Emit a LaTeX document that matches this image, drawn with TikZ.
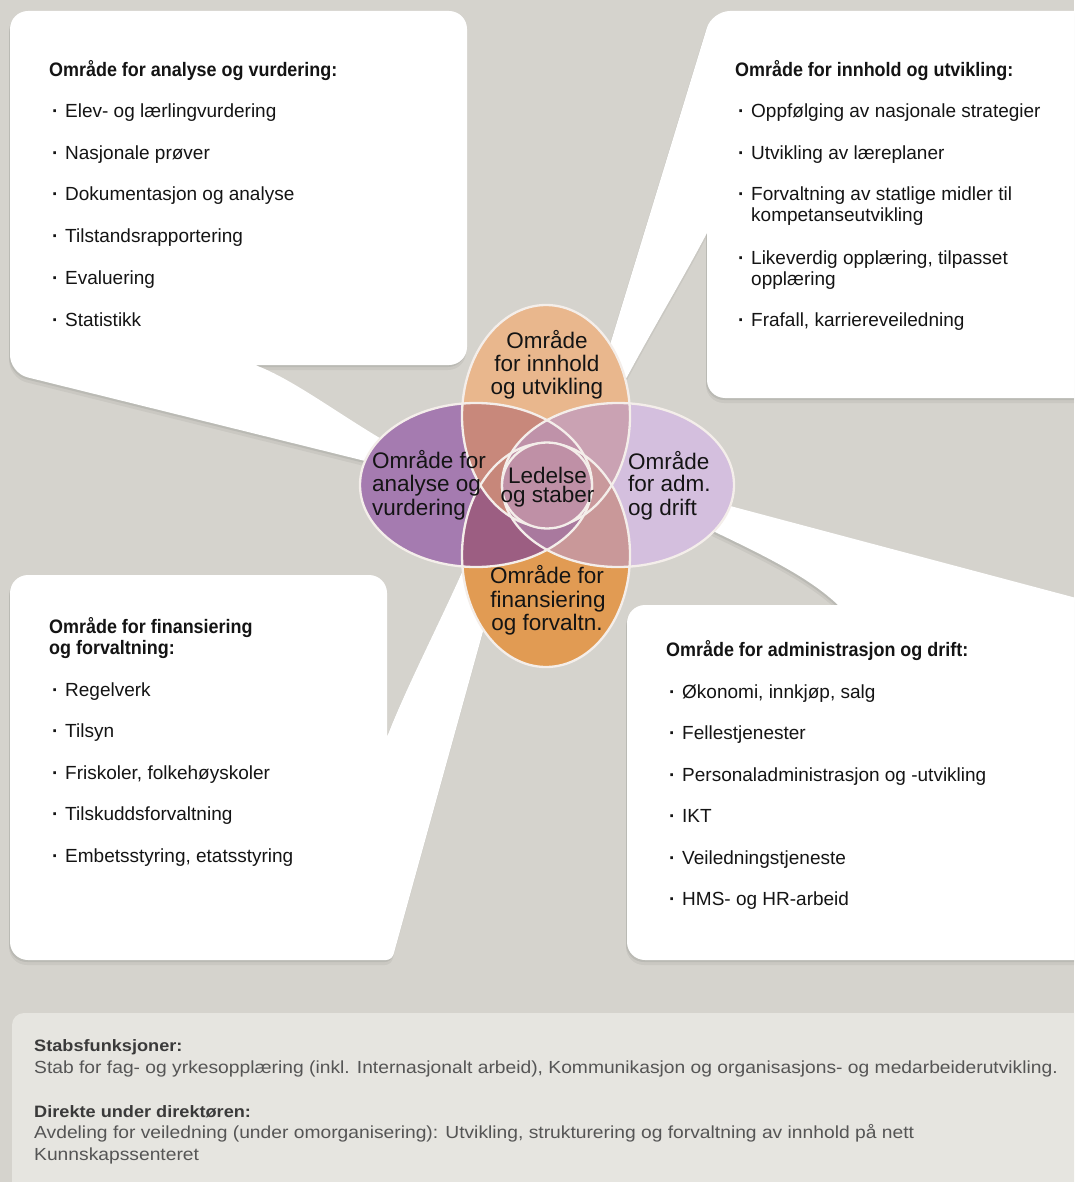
\documentclass[tikz,border=0pt]{standalone}
\usepackage{fontspec}
\setmainfont{Liberation Sans}
\newfontfamily\headfont[FakeStretch=0.92]{Liberation Sans}
\newfontfamily\condfont[FakeStretch=1.10]{Liberation Sans}
\usetikzlibrary{shadows}
\definecolor{bg}{HTML}{D5D3CD}
\definecolor{boxc}{HTML}{E6E5E0}
\definecolor{txt}{HTML}{141414}
\definecolor{btxt}{HTML}{555555}
\definecolor{bhead}{HTML}{3A3A3A}
\definecolor{cT}{HTML}{E9B78D}
\definecolor{cB}{HTML}{E19B53}
\definecolor{cL}{HTML}{A57BB0}
\definecolor{cR}{HTML}{D4BFDE}
\definecolor{cTL}{HTML}{C8887B}
\definecolor{cTR}{HTML}{CAA2B3}
\definecolor{cBL}{HTML}{9C5E82}
\definecolor{cBR}{HTML}{C99899}
\definecolor{cTB}{HTML}{D9A079}
\definecolor{cLR}{HTML}{BB97C0}
\definecolor{cTLR}{HTML}{BF92A9}
\definecolor{cBLR}{HTML}{A9799E}
\definecolor{cTBL}{HTML}{C7877A}
\definecolor{cTBR}{HTML}{C9999C}
\definecolor{cC}{HTML}{BF90A6}
\definecolor{olc}{HTML}{F4EEEA}
\newcommand\itemfont{\fontsize{19}{22}\selectfont}
\newcommand\headsize{\headfont\bfseries\fontsize{19.5}{22}\selectfont}
\newcommand\lblfont{\fontsize{22.5}{24}\selectfont}
\newcommand\itembullet{\makebox[13pt][l]{\bfseries ·}}
\begin{document}
\begin{tikzpicture}[x=1pt,y=-1pt,
  pT/.style={insert path={(546,416) ellipse [x radius=84pt, y radius=111pt]}},
  pB/.style={insert path={(546,555) ellipse [x radius=84pt, y radius=112pt]}},
  pL/.style={insert path={(476,485) ellipse [x radius=116pt, y radius=82pt]}},
  pR/.style={insert path={(618,485) ellipse [x radius=116pt, y radius=82pt]}},
  pC/.style={insert path={(547,485.5) ellipse [x radius=45pt, y radius=43pt]}},
  ol/.style={draw=olc, line width=2.3pt},
  callout/.style={fill=white,
    drop shadow={shadow xshift=-1pt, shadow yshift=-2pt, opacity=0.07, fill=black},
    drop shadow={shadow xshift=-1pt, shadow yshift=-5pt, opacity=0.05, fill=black}},
  itm/.style={anchor=base west, inner sep=0pt, font=\itemfont, text=txt},
  head/.style={anchor=base west, inner sep=0pt, font=\headsize, text=txt},
  lbl/.style={anchor=base, inner sep=0pt, font=\lblfont, text=txt},
  lbw/.style={anchor=base west, inner sep=0pt, font=\lblfont, text=txt},
  bt/.style={anchor=base west, inner sep=0pt, font=\condfont\fontsize{17.5}{20}\selectfont, text=btxt},
  bh/.style={anchor=base west, inner sep=0pt, font=\condfont\bfseries\fontsize{16.5}{20}\selectfont, text=bhead}
]
\clip (0,0) rectangle (1074,1182);
\fill[bg] (0,0) rectangle (1074,1182);

% callouts
\path[callout] (255,365) [rounded corners=18pt] -- (467,365) -- (467,11) -- (10,11) -- (10,373) [sharp corners] -- (462,485) -- (378,437) .. controls (330,408) and (290,378) .. (255,365) -- cycle;
\path[callout] (707,233) [rounded corners=18pt] -- (707,398) -- (1095,398) -- (1095,11) -- (712,11) [sharp corners] -- (587,420) -- (627,377) .. controls (655,325) and (685,275) .. (707,233) -- cycle;
\path[callout] (838,605) [rounded corners=18pt] -- (627,605) -- (627,960) -- (1095,960) -- (1095,603) [sharp corners] -- (606,473) -- (715,532) .. controls (765,556) and (810,578) .. (838,605) -- cycle;
\path[callout] (387,737) [rounded corners=18pt] -- (387,575) -- (10,575) -- (10,960) [rounded corners=6pt] -- (392,960) [sharp corners] -- (536,440) -- (463,570) .. controls (440,622) and (405,690) .. (387,737) -- cycle;

% bottom box
\path[fill=boxc, rounded corners=12pt] (12,1013) rectangle (1100,1210);

% ellipses: base
\fill[cL,pL]; \fill[cR,pR]; \fill[cT,pT]; \fill[cB,pB];
% pairs
\begin{scope}\clip[pT]; \fill[cTL,pL]; \fill[cTR,pR]; \fill[cTB,pB];\end{scope}
\begin{scope}\clip[pB]; \fill[cBL,pL]; \fill[cBR,pR];\end{scope}
\begin{scope}\clip[pL]; \fill[cLR,pR];\end{scope}
% triples
\begin{scope}\clip[pT]; \clip[pL]; \fill[cTLR,pR]; \fill[cTBL,pB];\end{scope}
\begin{scope}\clip[pB]; \clip[pR]; \fill[cBLR,pL]; \fill[cTBR,pT];\end{scope}
% all four
\begin{scope}\clip[pT]; \clip[pB]; \clip[pL]; \clip[pR];
  \fill[cC] (400,330) rectangle (700,640);
\end{scope}
\draw[ol,pL]; \draw[ol,pR]; \draw[ol,pT]; \draw[ol,pB];
\fill[cC,pC]; \draw[ol,pC];

% ellipse labels
\node[lbl] (t1) at (547,348) {Område};
\node[lbl] (t2) at (547,371) {for innhold};
\node[lbl] (t3) at (547,394.5) {og utvikling};
\node[lbw] (l1) at (372,468) {Område for};
\node[lbw] (l2) at (372,491.5) {analyse og};
\node[lbw] (l3) at (372,515) {vurdering};
\node[lbw] (r1) at (628,469) {Område};
\node[lbw] (r2) at (628,491.5) {for adm.};
\node[lbw] (r3) at (628,515) {og drift};
\node[lbl] (b1) at (547,583.5) {Område for};
\node[lbl] (b2) at (548,607) {finansiering};
\node[lbl] (b3) at (547,630) {og forvaltn.};
\node[anchor=base, inner sep=0pt, align=center, text=txt, font={\fontsize{22.5}{19}\selectfont}] (c1) at (547.5,502) {Ledelse\\og staber};

% top-left callout
\node[head] (tlh) at (49,77) {Område for analyse og vurdering:};
\node[itm] (tl1) at (52,118) {\itembullet Elev- og lærlingvurdering};
\node[itm] (tl2) at (52,160) {\itembullet Nasjonale prøver};
\node[itm] (tl3) at (52,201) {\itembullet Dokumentasjon og analyse};
\node[itm] (tl4) at (52,243) {\itembullet Tilstandsrapportering};
\node[itm] (tl5) at (52,284) {\itembullet Evaluering};
\node[itm] (tl6) at (52,326) {\itembullet Statistikk};

% top-right callout
\node[head] (trh) at (735,77) {Område for innhold og utvikling:};
\node[itm] (tr1) at (738,118) {\itembullet Oppfølging av nasjonale strategier};
\node[itm] (tr2) at (738,160) {\itembullet Utvikling av læreplaner};
\node[itm] (tr3) at (738,201) {\itembullet Forvaltning av statlige midler til};
\node[itm] (tr3b) at (751,222) {kompetanseutvikling};
\node[itm] (tr4) at (738,264) {\itembullet Likeverdig opplæring, tilpasset};
\node[itm] (tr4b) at (751,285) {opplæring};
\node[itm] (tr5) at (738,326) {\itembullet Frafall, karriereveiledning};

% bottom-left callout
\node[head] (blh) at (49,633) {Område for finansiering};
\node[head] (blh2) at (49,654) {og forvaltning:};
\node[itm] (bl1) at (52,696) {\itembullet Regelverk};
\node[itm] (bl2) at (52,737) {\itembullet Tilsyn};
\node[itm] (bl3) at (52,779) {\itembullet Friskoler, folkehøyskoler};
\node[itm] (bl4) at (52,820) {\itembullet Tilskuddsforvaltning};
\node[itm] (bl5) at (52,862) {\itembullet Embetsstyring, etatsstyring};

% bottom-right callout
\node[head] (brh) at (666,656) {Område for administrasjon og drift:};
\node[itm] (br1) at (669,698) {\itembullet Økonomi, innkjøp, salg};
\node[itm] (br2) at (669,739) {\itembullet Fellestjenester};
\node[itm] (br3) at (669,781) {\itembullet Personaladministrasjon og -utvikling};
\node[itm] (br4) at (669,822) {\itembullet IKT};
\node[itm] (br5) at (669,864) {\itembullet Veiledningstjeneste};
\node[itm] (br6) at (669,905) {\itembullet HMS- og HR-arbeid};

% bottom box text
\node[bh] (sh) at (34,1051) {Stabsfunksjoner:};
\node[bt] (s1) at (34,1073) {Stab for fag- og yrkesopplæring (inkl. Internasjonalt arbeid), Kommunikasjon og organisasjons- og medarbeiderutvikling.};
\node[bh] (dh) at (34,1117) {Direkte under direktøren:};
\node[bt] (d1) at (34,1138.5) {Avdeling for veiledning (under omorganisering): Utvikling, strukturering og forvaltning av innhold på nett};
\node[bt] (d2) at (34,1160) {Kunnskapssenteret};
\end{tikzpicture}
\end{document}
